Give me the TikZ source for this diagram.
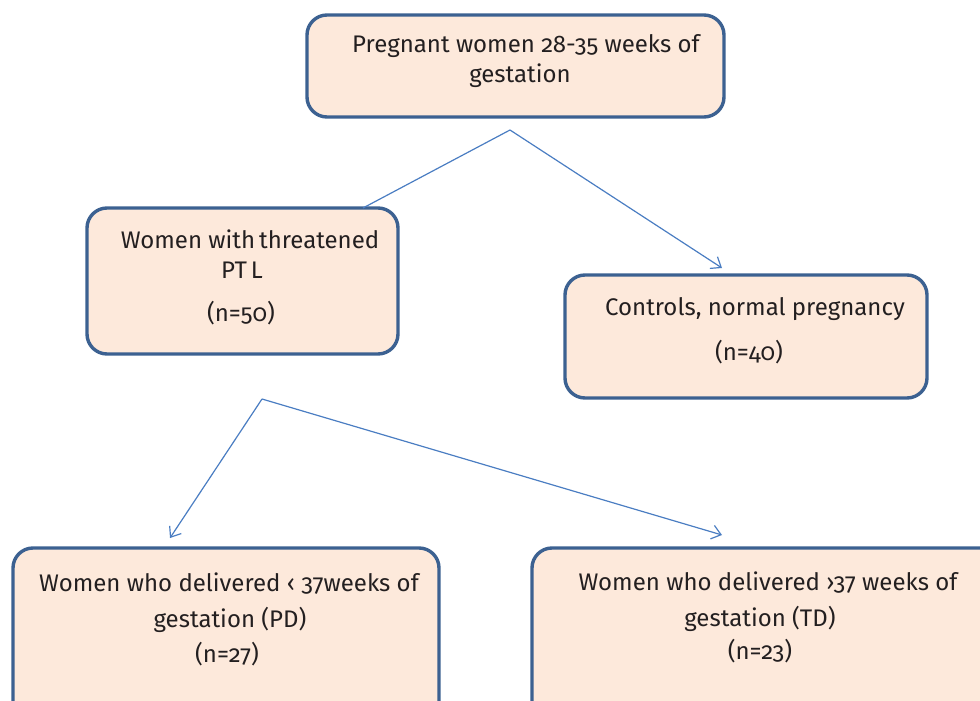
\documentclass[tikz,border=0pt]{standalone}
\usepackage{fontspec}
\setmainfont{Fira Sans}[Numbers=OldStyle]
\usetikzlibrary{arrows.meta,calc}
\definecolor{boxfill}{HTML}{FDE9DB}
\definecolor{boxdraw}{HTML}{3C6191}
\definecolor{linkc}{HTML}{4A7DC2}
\definecolor{txtc}{HTML}{231F20}
\begin{document}
\begin{tikzpicture}[x=1pt,y=-1pt,
  box/.style={draw=boxdraw, fill=boxfill, line width=3.4pt, rounded corners=20pt,
    anchor=north west, inner sep=0pt, outer sep=0pt},
  lbl/.style={anchor=base, inner sep=0pt, text=txtc, font=\fontsize{24}{28}\selectfont},
  link/.style={draw=linkc, line width=1.2pt},
  arr/.style={link, -{Straight Barb[length=9pt,width=14pt,line width=1.2pt]}}]
\useasboundingbox (0,0) rectangle (980,701);
% boxes
\node[box, minimum width=417pt, minimum height=102pt] (top) at (307,15) {};
\node[box, minimum width=311pt, minimum height=146pt] (ptl) at (87,208) {};
\node[box, minimum width=362pt, minimum height=123pt] (ctl) at (565,275) {};
\node[box, minimum width=426pt, minimum height=180pt] (pd) at (13,548) {};
\node[box, minimum width=470pt, minimum height=180pt] (td) at (532,548) {};
% texts
\node[lbl] (t1a) at (526,53) {Pregnant women 28-35 weeks of};
\node[lbl] (t1b) at (520,83) {gestation};
\node[lbl] (t2a) at (250,248) {Women with\,threatened};
\node[lbl] (t2b) at (242,278) {PT\,L};
\node[lbl] (t2c) at (241,321) {(n=50)};
\node[lbl] (t3a) at (755,315) {Controls, normal pregnancy};
\node[lbl] (t3b) at (749,360) {(n=40)};
\node[lbl] (t4a) at (229,591) {Women who delivered ‹ 37weeks of};
\node[lbl] (t4b) at (230,627) {gestation (PD)};
\node[lbl] (t4c) at (227,662) {(n=27)};
\node[lbl] (t5a) at (768,590) {Women who delivered ›37 weeks of};
\node[lbl] (t5b) at (760,626) {gestation (TD)};
\node[lbl] (t5c) at (760,659) {(n=23)};
% connectors
\coordinate (s1) at (510,130);
\coordinate (e1) at (363,208);
\coordinate (e2) at (722,268);
\coordinate (s2) at (262,399);
\coordinate (e3) at (170,538);
\coordinate (e4) at (722,535);
\draw[link] (s1) -- (e1);
\draw[arr] (s1) -- (e2);
\draw[arr] (s2) -- (e3);
\draw[arr] (s2) -- (e4);
\end{tikzpicture}
\end{document}
